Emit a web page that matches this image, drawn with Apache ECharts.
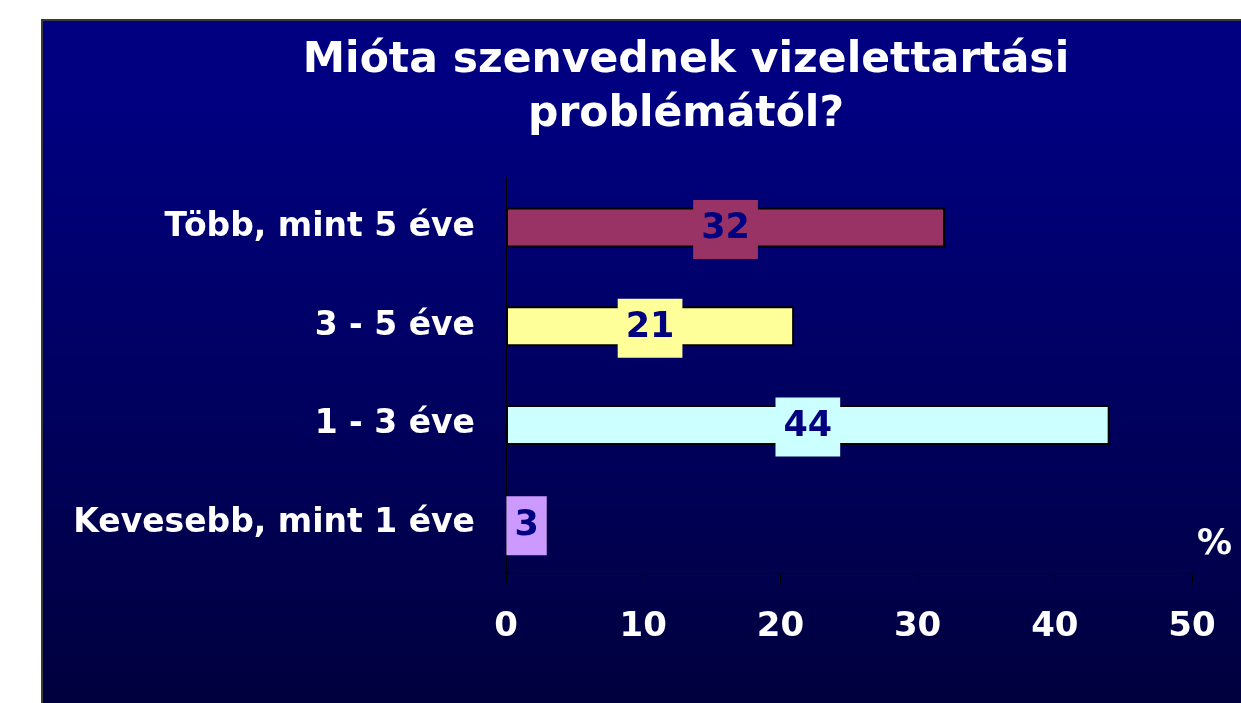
<!DOCTYPE html>
<html>
<head>
<meta charset="utf-8">
<script src="https://cdn.jsdelivr.net/npm/echarts@6/dist/echarts.min.js"></script>
<style>
html,body{margin:0;padding:0;background:#fff;}
#c{width:1241px;height:703px;}
</style>
</head>
<body>
<div id="c"></div>
<script>
const titleText = 'Mióta szenvednek vizelettartási\nproblémától?';
const categories = ['Több, mint 5 éve', '3 - 5 éve', '1 - 3 éve', 'Kevesebb, mint 1 éve'];
const values = [32, 21, 44, 3];
const barColors = ['#993366', '#FFFF99', '#CCFFFF', '#CC99FF'];
const xTicks = { min: 0, max: 50, interval: 10 };
const unitLabel = '%';

const FONT = '"DejaVu Sans", Verdana, sans-serif';
const chart = echarts.init(document.getElementById('c'));
chart.setOption({
  backgroundColor: '#ffffff',
  animation: false,
  graphic: [{
    type: 'rect',
    z: -100,
    silent: true,
    shape: { x: 42, y: 20, width: 1260, height: 720 },
    style: {
      fill: new echarts.graphic.LinearGradient(0, 0, 0, 1, [
        { offset: 0, color: '#000080' },
        { offset: 0.12, color: '#000080' },
        { offset: 1, color: '#00003a' }
      ]),
      stroke: '#3a3a3a',
      lineWidth: 2
    }
  }, {
    type: 'text',
    z: 10,
    left: 1197,
    top: 527,
    style: {
      text: unitLabel,
      fill: '#ffffff',
      font: 'bold 35px ' + FONT
    }
  }],
  title: {
    text: titleText,
    left: 681,
    top: 29,
    textAlign: 'center',
    textStyle: {
      color: '#ffffff',
      fontFamily: FONT,
      fontWeight: 'bold',
      fontSize: 42.5,
      lineHeight: 54
    }
  },
  grid: { left: 506, right: 49, top: 178, bottom: 130, containLabel: false },
  xAxis: {
    type: 'value',
    min: xTicks.min,
    max: xTicks.max,
    interval: xTicks.interval,
    axisLine: { show: true, lineStyle: { color: '#000000', width: 1 } },
    axisTick: { show: true, length: 10, lineStyle: { color: '#000000', width: 1 } },
    splitLine: { show: false },
    axisLabel: {
      color: '#ffffff',
      fontFamily: FONT,
      fontWeight: 'bold',
      fontSize: 34,
      margin: 37
    }
  },
  yAxis: {
    type: 'category',
    inverse: true,
    data: categories,
    axisLine: { show: true, lineStyle: { color: '#000000', width: 1 } },
    axisTick: { show: false },
    axisLabel: {
      color: '#ffffff',
      fontFamily: FONT,
      fontWeight: 'bold',
      fontSize: 33,
      margin: 31,
      padding: [6, 0, 0, 0]
    }
  },
  series: [{
    type: 'bar',
    barWidth: 40,
    data: values.map((v, i) => ({
      value: v,
      itemStyle: { color: barColors[i] },
      label: { backgroundColor: barColors[i] }
    })),
    itemStyle: { borderColor: '#000000', borderWidth: 2 },
    label: {
      show: true,
      position: 'inside',
      offset: [0, 2],
      color: '#000080',
      fontFamily: FONT,
      fontWeight: 'bold',
      fontSize: 35,
      lineHeight: 35,
      padding: [12, 8, 12, 8]
    }
  }]
});
</script>
</body>
</html>
